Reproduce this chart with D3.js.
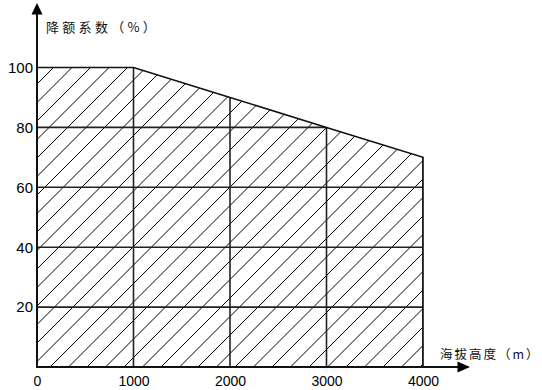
<!DOCTYPE html>
<html>
<head>
<meta charset="utf-8">
<script src="https://cdn.jsdelivr.net/npm/d3@7"></script>
<style>
html,body{margin:0;padding:0;background:#fff;}
svg{display:block;}
</style>
</head>
<body>
<svg id="chart" width="542" height="390"></svg>
<script>
// ---- data ----
const altitude = [0, 1000, 2000, 3000, 4000];
const derating = [100, 100, 90, 80, 70];
const xTicks = [0, 1000, 2000, 3000, 4000];
const yTicks = [20, 40, 60, 80, 100];
const xTitle = "海拔高度（m）";
const yTitle = "降额系数（%）";

const svg = d3.select("#chart");
const x = d3.scaleLinear().domain([0, 4000]).range([37, 423]);
const y = d3.scaleLinear().domain([0, 100]).range([367, 67.5]);

const pts = altitude.map((a, i) => [x(a), y(derating[i])]);
const poly = [[x(0), y(0)], ...pts, [x(4000), y(0)]];

// clip
svg.append("defs").append("clipPath").attr("id", "area")
  .append("path").attr("d", d3.line()(poly) + "Z");

const g = svg.append("g").attr("clip-path", "url(#area)");

// hatching: lines x + y = c
const spacing = 18.5;
const c0 = 417;
for (let k = -25; k < 30; k++) {
  const c = c0 - spacing * k;
  g.append("line")
    .attr("x1", c - 400).attr("y1", 400)
    .attr("x2", c).attr("y2", 0)
    .attr("stroke", "#000").attr("stroke-width", 1);
}

// gridlines (clipped)
g.selectAll(".hg").data(yTicks.slice(0, 4)).enter().append("line")
  .attr("x1", x(0)).attr("x2", x(4000))
  .attr("y1", d => y(d)).attr("y2", d => y(d))
  .attr("stroke", "#222").attr("stroke-width", 1.6);
g.selectAll(".vg").data(xTicks.slice(1)).enter().append("line")
  .attr("x1", d => x(d)).attr("x2", d => x(d))
  .attr("y1", y(0)).attr("y2", y(100))
  .attr("stroke", "#222").attr("stroke-width", 1.6);

// outline top + right
svg.append("path")
  .attr("d", d3.line()([...pts, [x(4000), y(0)]]))
  .attr("fill", "none").attr("stroke", "#111").attr("stroke-width", 1.6);

// axes
svg.append("line").attr("x1", x(0)).attr("y1", y(0)).attr("x2", x(0)).attr("y2", 12)
  .attr("stroke", "#111").attr("stroke-width", 2);
svg.append("path").attr("d", "M37,3 L31.5,14.5 L42.5,14.5 Z").attr("fill", "#000");
svg.append("line").attr("x1", x(0) - 1).attr("y1", y(0)).attr("x2", 460).attr("y2", y(0))
  .attr("stroke", "#111").attr("stroke-width", 2);
svg.append("path").attr("d", "M470,367 L457.5,361.5 L457.5,372.5 Z").attr("fill", "#000");

// tick labels via axes
const yAxis = d3.axisLeft(y).tickValues(yTicks).tickSize(0).tickPadding(4);
const ya = svg.append("g").attr("transform", `translate(${x(0)},0)`).call(yAxis);
ya.select(".domain").remove();
ya.selectAll("text").attr("font-family", "Liberation Sans, Arial, sans-serif")
  .attr("font-size", 15).attr("fill", "#000");

const xAxis = d3.axisBottom(x).tickValues(xTicks).tickSize(0).tickPadding(9).tickFormat(d3.format("d"));
const xa = svg.append("g").attr("transform", `translate(0,${y(0)})`).call(xAxis);
xa.select(".domain").remove();
xa.selectAll("text").attr("font-family", "Liberation Sans, Arial, sans-serif")
  .attr("font-size", 14).attr("fill", "#000");

// titles
svg.append("text").attr("x", 46).attr("y", 32).text(yTitle)
  .attr("font-family", "Noto Sans CJK SC, sans-serif").attr("font-size", 13)
  .attr("letter-spacing", 3.3).attr("fill", "#111");
svg.append("text").attr("x", 440).attr("y", 359).text(xTitle)
  .attr("font-family", "Noto Sans CJK SC, sans-serif").attr("font-size", 12.5)
  .attr("letter-spacing", 2).attr("fill", "#111");
</script>
</body>
</html>
